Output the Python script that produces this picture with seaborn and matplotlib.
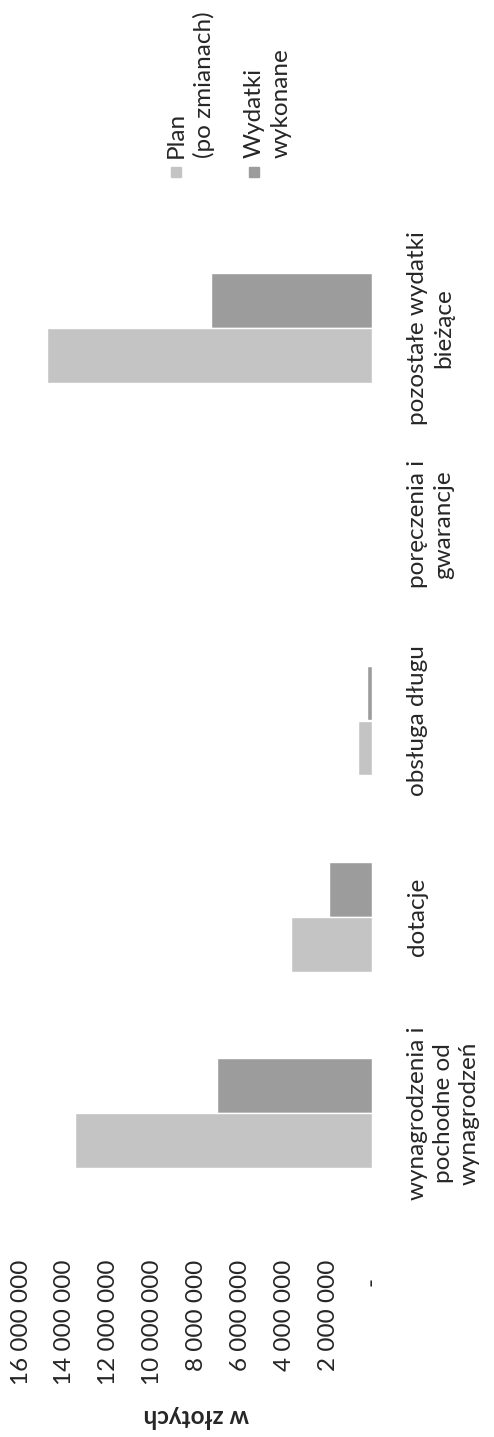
import pandas as pd
import matplotlib
matplotlib.use('Agg')
import matplotlib.pyplot as plt
import seaborn as sns
from matplotlib.patches import Rectangle

'''
Data (values read off the scanned chart, in PLN)
'''
categories = ['wynagrodzenia i\npochodne od\nwynagrodzeń', 'dotacje', 'obsługa długu',
              'poręczenia i\ngwarancje', 'pozostałe wydatki\nbieżące']
plan = [13550000, 3700000, 620000, 0, 14800000]
wykonane = [7050000, 1950000, 230000, 0, 7350000]
series_names = ['Plan\n(po zmianach)', 'Wydatki\nwykonane']
tick_values = [0, 2000000, 4000000, 6000000, 8000000, 10000000, 12000000, 14000000, 16000000]

plan_color = '#c4c4c4'
done_color = '#9c9c9c'

df = pd.DataFrame({
    'kategoria': categories * 2,
    'wartosc': plan + wykonane,
    'seria': [series_names[0]] * len(categories) + [series_names[1]] * len(categories),
})

sns.set_style('white')
plt.rcParams['font.family'] = ['Lato', 'DejaVu Sans']
fs = 17.5

fig = plt.figure(figsize=(4.94, 14.37), dpi=100)
# axes box in pixel terms: x 21..372, y 230..1211 (from top)
ax = fig.add_axes([21 / 494, 1 - 1211 / 1437, (372 - 21) / 494, (1211 - 230) / 1437])

# chart is shown turned by 90 degrees: categories run down, values grow to the left
sns.barplot(data=df, y='kategoria', x='wartosc', hue='seria',
            order=categories[::-1], hue_order=series_names[::-1],
            palette={series_names[0]: plan_color, series_names[1]: done_color},
            width=0.56, orient='h', legend=False, ax=ax)

ax.set_xlim(tick_values[-1], 0)
ax.set_ylim(len(categories) - 0.5, -0.5)

ax.set_xticks(tick_values)
ax.set_xticklabels(['-   ' if v == 0 else f'{v:,.0f}'.replace(',', ' ') for v in tick_values],
                   rotation=90, va='top', ha='center', fontsize=fs)
ax.tick_params(axis='x', length=0, pad=35)

ax.yaxis.tick_right()
ax.set_yticks(range(len(categories)))
ax.set_yticklabels(categories[::-1], rotation=90, ha='left', va='center',
                   multialignment='center', linespacing=1.3, fontsize=fs)
ax.tick_params(axis='y', length=0, pad=25)
ax.set_ylabel('')

ax.set_xlabel('w złotych', rotation=180, fontsize=fs, fontweight='bold', labelpad=14)

for s in ax.spines.values():
    s.set_visible(False)
ax.grid(False)

# hand-made legend, turned like the rest of the chart
W, H = 494, 1437
for (cx, name, col) in [(176, series_names[0], plan_color), (254, series_names[1], done_color)]:
    fig.patches.append(Rectangle(((cx - 5) / W, 1 - 177 / H), 10 / W, 10 / H,
                                 transform=fig.transFigure, color=col))
    fig.text((cx - 10) / W, 1 - 158 / H, name, rotation=90, ha='left', va='bottom',
             multialignment='left', linespacing=1.3, fontsize=fs)

fig.savefig('out.png', dpi=100)
